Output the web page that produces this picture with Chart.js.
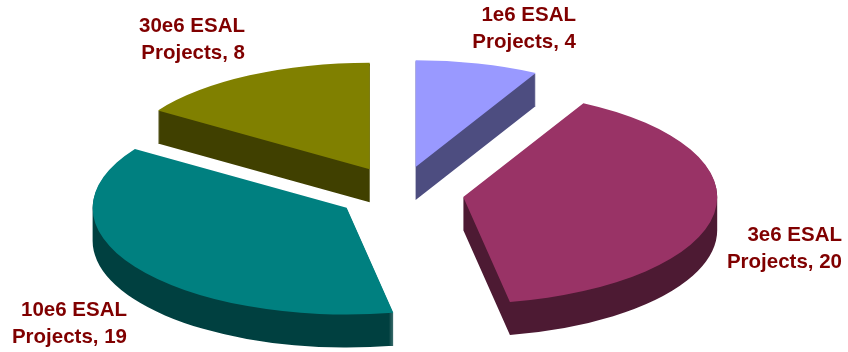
<!DOCTYPE html>
<html lang="en">
  <head>
    <meta charset="UTF-8" />
    <title>ESAL Projects</title>
    <script src="https://cdn.jsdelivr.net/npm/chart.js"></script>
    <style>
      html, body { margin: 0; padding: 0; background: #fff; }
      #wrap { position: relative; width: 848px; height: 352px; }
    </style>
  </head>
  <body>
    <div id="wrap"><canvas id="pieChart"></canvas></div>
    <script>
      // data
      var categories = ["1e6 ESAL", "3e6 ESAL", "10e6 ESAL", "30e6 ESAL"];
      var projects = [4, 20, 19, 8];

      // colours
      var topColors = ["#9999ff", "#993366", "#008080", "#808000"];
      var wallColors = ["#4d4d80", "#4d1a33", "#004040", "#404000"];

      // label anchors (right edge, middle of the first line)
      var labelAnchors = [[576, 15], [842, 235], [127, 310], [245, 26]];

      var squash = 0.42; // vertical tilt of the pie
      var depth = 33; // height of the walls in px
      var explode = 64; // how far each slice moves out from the centre

      // draws the slices ourselves: tilted, pulled apart, with a dark wall below
      var tiltPlugin = {
        id: "tilt",
        beforeDatasetsDraw: function (chart) {
          var ctx = chart.ctx;
          var arcs = chart.getDatasetMeta(0).data;
          var cx = arcs[0].x;
          var cy = arcs[0].y;
          ctx.save();
          ctx.translate(cx, cy);
          ctx.scale(1, squash);
          ctx.translate(-cx, -cy);
          arcs.forEach(function (arc, i) {
            var mid = (arc.startAngle + arc.endAngle) / 2;
            ctx.save();
            ctx.translate(Math.cos(mid) * explode, Math.sin(mid) * explode);
            // one path for the whole wall so the layers do not leave seams
            ctx.beginPath();
            for (var d = depth; d > 0; d -= 1) {
              var y = arc.y + d / squash;
              ctx.moveTo(arc.x, y);
              ctx.arc(arc.x, y, arc.outerRadius, arc.startAngle, arc.endAngle);
              ctx.closePath();
            }
            ctx.fillStyle = wallColors[i];
            ctx.fill();
            arc.draw(ctx);
            ctx.restore();
          });
          ctx.restore();

          ctx.fillStyle = "#800000";
          ctx.font = "bold 20.5px 'Liberation Sans'";
          ctx.textAlign = "right";
          ctx.textBaseline = "middle";
          categories.forEach(function (name, i) {
            var a = labelAnchors[i];
            ctx.fillText(name, a[0], a[1]);
            ctx.fillText("Projects, " + projects[i], a[0], a[1] + 27);
          });
          return false;
        },
      };

      new Chart(document.getElementById("pieChart"), {
        type: "pie",
        data: {
          labels: categories,
          datasets: [
            {
              data: projects,
              backgroundColor: topColors,
              borderWidth: 0,
            },
          ],
        },
        options: {
          responsive: true,
          maintainAspectRatio: false,
          animation: false,
          radius: 254,
          layout: { padding: { right: 48, top: 34 } },
          plugins: { legend: { display: false }, tooltip: { enabled: false } },
        },
        plugins: [tiltPlugin],
      });
    </script>
  </body>
</html>
